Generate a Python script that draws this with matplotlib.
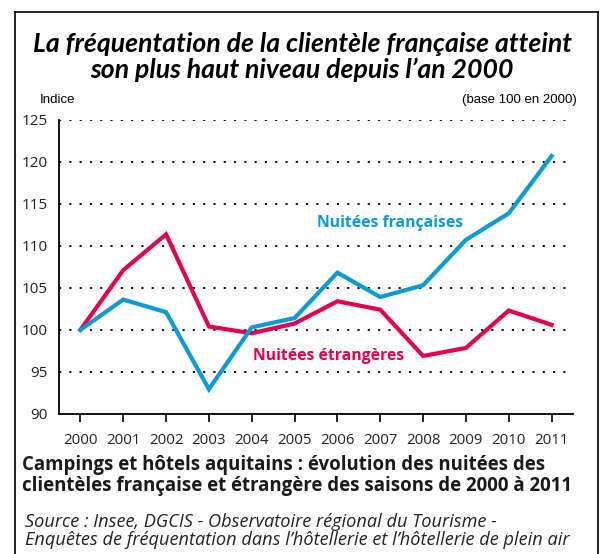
"""
Fréquentation des campings et hôtels aquitains, 2000-2011 (base 100 en 2000).
"""
import matplotlib
matplotlib.use("Agg")
import matplotlib.pyplot as plt
from matplotlib.lines import Line2D

annees = list(range(2000, 2012))
nuitees_francaises = [100, 103.6, 102.1, 92.95, 100.3, 101.4, 106.8, 103.9, 105.3, 110.7, 113.85, 120.65]
nuitees_etrangeres = [100, 107.1, 111.35, 100.4, 99.6, 100.75, 103.4, 102.4, 96.9, 97.85, 102.3, 100.6]
graduations = [90, 95, 100, 105, 110, 115, 120, 125]

bleu = "#0a9bd7"
rouge = "#e2004f"
titre_police = "Lato"
police = "Open Sans"

fig = plt.figure(figsize=(6.06, 5.54), dpi=100)
ax = fig.add_axes([59 / 606, 1 - 414 / 554, (573 - 59) / 606, (414 - 119.5) / 554])

# cadre ouvert en bas
for xs, ys in [([15 / 606, 15 / 606], [0, 1 - 12 / 554]),
               ([15 / 606, 598 / 606], [1 - 12 / 554, 1 - 12 / 554]),
               ([598 / 606, 598 / 606], [1 - 12 / 554, 0])]:
    fig.add_artist(Line2D(xs, ys, color="black", lw=1.2, transform=fig.transFigure))

for g in graduations[1:]:
    ax.axhline(g, color="black", lw=1.3, ls=(0, (1.2, 4.5)), zorder=1)

ax.plot(annees, nuitees_etrangeres, color=rouge, lw=3, solid_joinstyle="miter", zorder=3)
ax.plot(annees, nuitees_francaises, color=bleu, lw=3, solid_joinstyle="miter", zorder=4)

ax.set_xlim(1999.5, 2011.5)
ax.set_ylim(90, 125)
ax.set_xticks(annees)
ax.set_yticks(graduations)
ax.spines[["top", "right"]].set_visible(False)
ax.spines[["left", "bottom"]].set_linewidth(1.3)
ax.tick_params(axis="x", direction="out", length=6, width=1.2, pad=8, labelsize=10.8)
ax.tick_params(axis="y", length=0, pad=8, labelsize=11)
for lab in ax.get_xticklabels() + ax.get_yticklabels():
    lab.set_fontfamily(police)
    lab.set_color("#222222")

ax.text(2005.53, 112.7, "Nuitées françaises", color=bleu, fontsize=11.3, fontweight="bold",
        family=police, ha="left", va="center")
ax.text(2004.03, 96.85, "Nuitées étrangères", color=rouge, fontsize=11.3, fontweight="bold",
        family=police, ha="left", va="center")

fig.text(0.499, 1 - 44 / 554, "La fréquentation de la clientèle française atteint",
         ha="center", va="center", fontsize=19.2, fontweight="bold", style="italic",
         family=titre_police)
fig.text(0.499, 1 - 70 / 554, "son plus haut niveau depuis l’an 2000",
         ha="center", va="center", fontsize=19.2, fontweight="bold", style="italic",
         family=titre_police)

fig.text(40 / 606, 1 - 100 / 554, "Indice", ha="left", va="center", fontsize=9.5,
         family="Liberation Sans")
fig.text(577 / 606, 1 - 100 / 554, "(base 100 en 2000)", ha="right", va="center", fontsize=9.5,
         family="Liberation Sans")

fig.text(22 / 606, 1 - 465 / 554, "Campings et hôtels aquitains : évolution des nuitées des",
         ha="left", va="center", fontsize=13.4, fontweight="bold", family=police, color="#1a1a1a")
fig.text(22 / 606, 1 - 486 / 554, "clientèles française et étrangère des saisons de 2000 à 2011",
         ha="left", va="center", fontsize=13.4, fontweight="bold", family=police, color="#1a1a1a")

fig.text(25 / 606, 1 - 522 / 554, "Source : Insee, DGCIS - Observatoire régional du Tourisme -",
         ha="left", va="center", fontsize=13.1, style="italic", family=police, color="#222222")
fig.text(25 / 606, 1 - 540 / 554, "Enquêtes de fréquentation dans l’hôtellerie et l’hôtellerie de plein air",
         ha="left", va="center", fontsize=13.1, style="italic", family=police, color="#222222")

fig.savefig("out.png", dpi=100)
